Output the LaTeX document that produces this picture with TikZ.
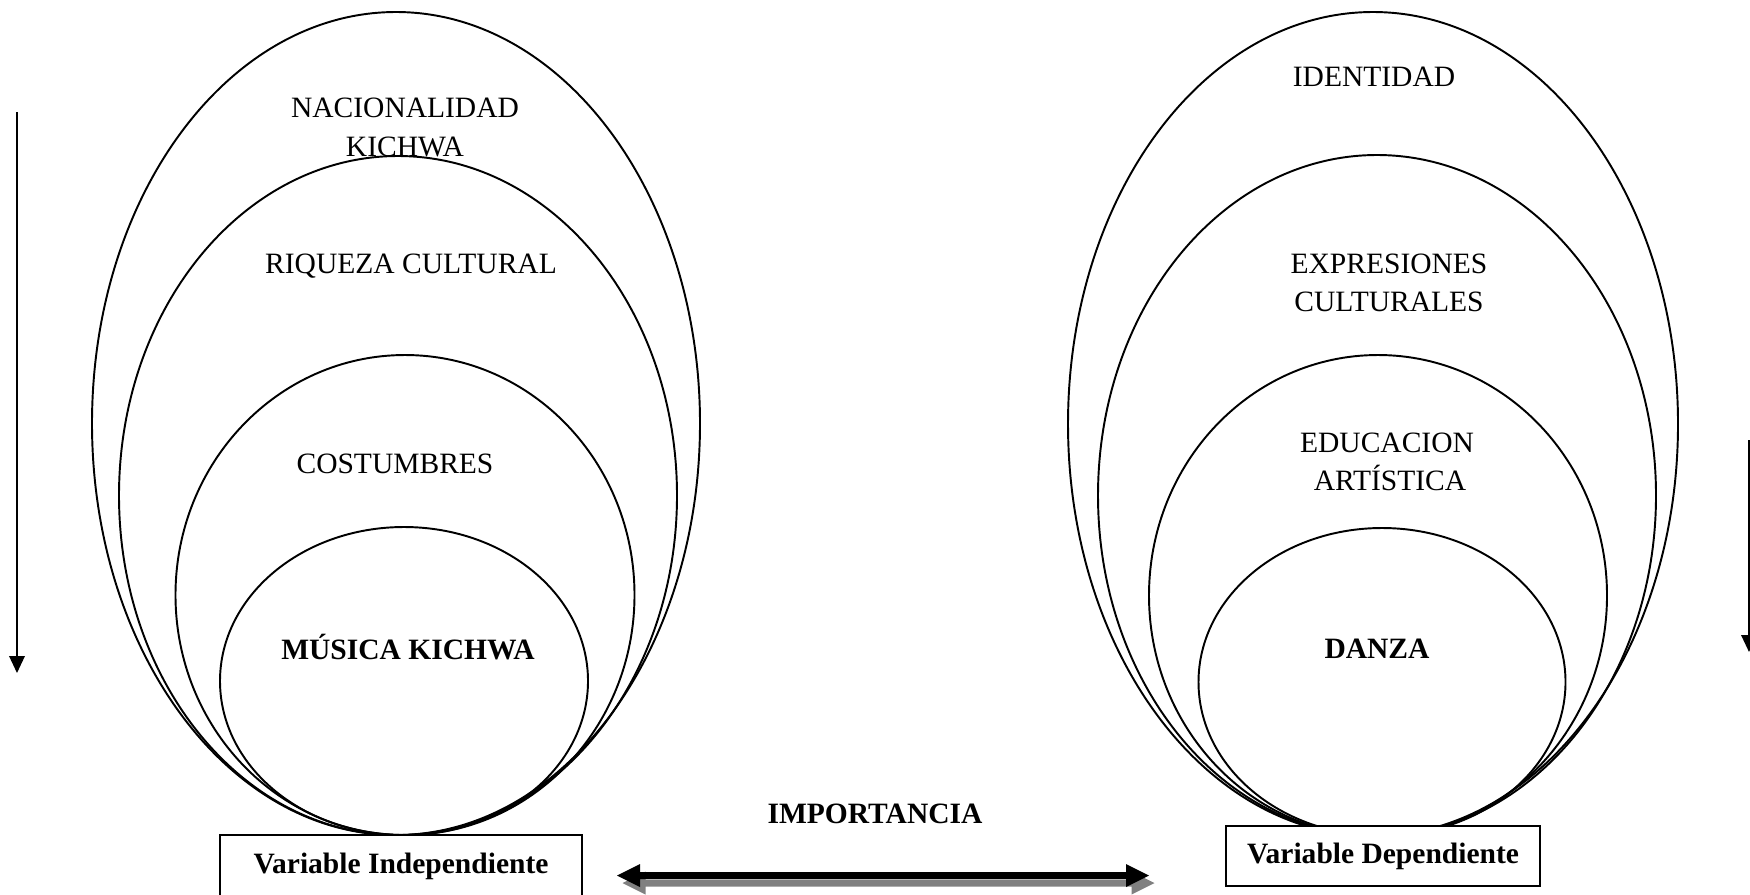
\documentclass[tikz,border=0pt]{standalone}
\usepackage{fontspec}
\setmainfont{Liberation Serif}
\usetikzlibrary{arrows.meta}
\definecolor{shadowgray}{HTML}{808080}
\begin{document}
\begin{tikzpicture}[x=0.02cm,y=-0.02cm,
  ring/.style={line width=1.1pt},
  lbl/.style={anchor=base, inner sep=0pt, font=\fontsize{16.8}{20}\selectfont},
  blbl/.style={anchor=base, inner sep=0pt, font=\fontsize{16.8}{20}\selectfont\bfseries},
  varbox/.style={draw, line width=1.1pt, fill=white, inner sep=0pt, font=\fontsize{16.8}{20}\selectfont\bfseries},
  vline/.style={line width=1.1pt, -{Triangle[length=0.34cm,width=0.31cm]}}]
\useasboundingbox (0,0) rectangle (1750,894);

% left rings
\draw[ring] (396,423.5) ellipse [x radius=304, y radius=411.5];
\draw[ring] (398,495.5) ellipse [x radius=279, y radius=339.5];
\draw[ring] (405,595) ellipse [x radius=229.5, y radius=240];
\draw[ring] (404,681) ellipse [x radius=184, y radius=154];

% right rings
\draw[ring] (1373,424) ellipse [x radius=305, y radius=412];
\draw[ring] (1377,495.5) ellipse [x radius=279, y radius=340.5];
\draw[ring] (1378,595.5) ellipse [x radius=229, y radius=240.5];
\draw[ring] (1382,682) ellipse [x radius=183.5, y radius=154];

% boxes
\node[varbox, minimum width=7.24cm, minimum height=1.26cm] (vind) at (401,866.5) {Variable Independiente};
\node[varbox, minimum width=6.28cm, minimum height=1.2cm] (vdep) at (1383,856) {Variable Dependiente};

% left labels
\node[lbl] (nac) at (405,117) {NACIONALIDAD};
\node[lbl] (kic) at (405,156) {KICHWA};
\node[lbl] (riq) at (411,273) {RIQUEZA CULTURAL};
\node[lbl] (cos) at (395,473) {COSTUMBRES};
\node[blbl] (mus) at (408,659) {MÚSICA KICHWA};

% right labels
\node[lbl] (ide) at (1374,86) {IDENTIDAD};
\node[lbl] (exp) at (1389,273) {EXPRESIONES};
\node[lbl] (cul) at (1389,311) {CULTURALES};
\node[lbl] (edu) at (1387,452) {EDUCACION};
\node[lbl] (art) at (1390,490) {ARTÍSTICA};
\node[blbl] (dan) at (1377,658) {DANZA};

% importance
\node[blbl] (imp) at (875,823) {IMPORTANCIA};
\fill[shadowgray] (622.5,883) -- (645.5,871.5) -- (645.5,879.5) -- (1131.5,879.5) -- (1131.5,871.5) -- (1154.5,883) -- (1131.5,894.5) -- (1131.5,886.5) -- (645.5,886.5) -- (645.5,894.5) -- cycle;
\fill[black] (617,875.5) -- (640,864) -- (640,872) -- (1126,872) -- (1126,864) -- (1149,875.5) -- (1126,887) -- (1126,879) -- (640,879) -- (640,887) -- cycle;

% vertical arrows
\coordinate (lt) at (17,112);
\coordinate (lb) at (17,673);
\draw[vline] (lt) -- (lb);
\coordinate (rt) at (1749,440);
\coordinate (rb) at (1749,652);
\draw[vline] (rt) -- (rb);
\end{tikzpicture}
\end{document}
